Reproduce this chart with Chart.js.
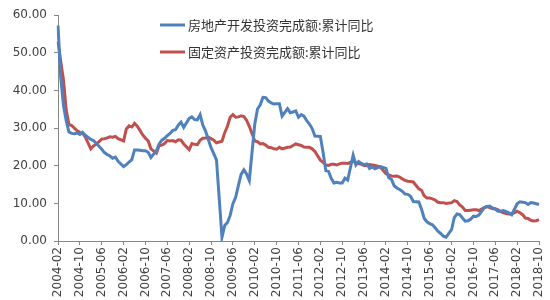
<!DOCTYPE html>
<html><head><meta charset="utf-8">
<script src="https://cdn.jsdelivr.net/npm/chart.js@4.4.1/dist/chart.umd.min.js"></script>
<style>html,body{margin:0;padding:0;background:#fff;}canvas{display:block;}</style>
</head><body>
<canvas id="c" width="550" height="300"></canvas>
<script>
const seriesNames = ['房地产开发投资完成额:累计同比', '固定资产投资完成额:累计同比'];
const startYear = 2004, startMonth = 2, endYear = 2018, endMonth = 10;
const labelEvery = 8;
const yTicks = { min: 0, max: 60, step: 10 };

// Values for Feb..Dec of each year (Jan-Feb reported together, January has no point)
const realEstate = [
  57.3, 43.5, 36.0, 32.0, 29.0, 28.6, 28.5, 28.7, 28.3, 28.9, 28.1,
  27.0, 26.7, 26.0, 25.2, 24.4, 23.5, 23.0, 22.6, 22.0, 22.3, 21.2,
  19.8, 20.3, 21.0, 21.6, 24.2, 24.2, 24.1, 24.0, 24.0, 23.6, 22.2,
  24.0, 25.8, 26.8, 27.3, 28.0, 28.6, 29.4, 29.6, 30.8, 31.6, 30.2,
  32.6, 33.0, 32.3, 32.2, 33.6, 30.8, 29.2, 27.0, 24.8, 23.2, 21.5,
  1.0, 4.1, 4.9, 6.8, 9.9, 11.6, 14.7, 17.7, 18.9, 17.8, 16.1,
  31.1, 35.1, 36.2, 38.2, 38.1, 37.2, 36.7, 36.4, 36.5, 36.5, 33.2,
  35.2, 34.1, 34.3, 34.6, 32.9, 33.6, 33.2, 32.0, 31.1, 29.9, 27.9,
  27.8, 23.5, 18.7, 18.5, 16.6, 15.4, 15.6, 15.4, 15.4, 16.7, 16.2,
  22.8, 20.2, 21.1, 20.6, 20.3, 20.5, 19.3, 19.7, 19.2, 19.5, 19.8,
  19.3, 16.8, 16.4, 14.7, 14.1, 13.7, 13.2, 12.5, 12.4, 11.9, 10.5,
  10.4, 8.5, 6.0, 5.1, 4.6, 4.3, 3.5, 2.6, 2.0, 1.3, 1.0,
  3.0, 6.2, 7.2, 7.0, 6.1, 5.3, 5.4, 5.8, 6.6, 6.5, 6.9,
  8.9, 9.1, 9.3, 8.8, 8.5, 7.9, 7.9, 8.1, 7.8, 7.5, 7.0,
  9.9, 10.4, 10.3, 10.2, 9.7, 10.2, 10.1, 9.9, 9.7
];
const fixedAsset = [
  53.0, 47.8, 42.8, 34.8, 31.0, 30.7, 30.0, 29.3, 28.9, 28.6, 27.6,
  24.5, 25.3, 25.7, 26.4, 27.1, 27.2, 27.4, 27.7, 27.6, 27.8, 27.2,
  26.6, 29.8, 30.6, 30.3, 31.3, 30.5, 29.4, 28.2, 27.3, 26.6, 24.5,
  23.4, 25.3, 25.5, 25.9, 26.7, 26.6, 26.7, 26.4, 26.9, 26.8, 25.8,
  24.3, 25.9, 25.7, 25.6, 26.8, 27.3, 27.4, 27.6, 27.2, 26.8, 26.1,
  26.5, 28.8, 30.5, 32.9, 33.6, 32.9, 33.0, 33.3, 33.1, 32.1, 30.5,
  26.6, 26.4, 25.8, 25.9, 25.5, 24.9, 24.8, 24.5, 24.4, 24.9, 24.5,
  24.9, 25.0, 25.4, 25.8, 25.6, 25.4, 25.0, 24.9, 24.9, 24.5, 23.8,
  21.5, 20.9, 20.2, 20.1, 20.4, 20.4, 20.2, 20.5, 20.7, 20.7, 20.6,
  21.2, 20.9, 20.6, 20.4, 20.1, 20.1, 20.3, 20.2, 20.1, 19.9, 19.6,
  17.9, 17.6, 17.3, 17.2, 17.3, 17.0, 16.5, 16.1, 15.9, 15.8, 15.7,
  13.9, 13.5, 12.0, 11.4, 11.4, 11.2, 10.9, 10.3, 10.2, 10.2, 10.0,
  10.2, 10.7, 10.5, 9.6, 9.0, 8.1, 8.1, 8.2, 8.3, 8.3, 8.1,
  8.9, 9.2, 8.9, 8.6, 8.6, 8.3, 7.8, 7.5, 7.3, 7.2, 7.2,
  7.9, 7.5, 7.0, 6.1, 6.0, 5.5, 5.3, 5.4, 5.7
];

// Build monthly category labels and series (January -> null gap, spanned)
const labels = [], reData = [], faData = [];
let k = 0;
for (let y = startYear; y <= endYear; y++) {
  const m0 = (y === startYear) ? startMonth : 1;
  const m1 = (y === endYear) ? endMonth : 12;
  for (let m = m0; m <= m1; m++) {
    labels.push(y + '-' + String(m).padStart(2, '0'));
    if (m === 1) { reData.push(null); faData.push(null); }
    else { reData.push(realEstate[k]); faData.push(fixedAsset[k]); k++; }
  }
}

const AXIS = '#868686';
const TXT = '#404040';
const tickFont = { family: 'DejaVu Sans', size: 12 };

const innerLegend = {
  id: 'innerLegend',
  afterDraw(chart) {
    const c = chart.ctx;
    const rows = [25, 52];
    c.save();
    chart.data.datasets.forEach((ds, i) => {
      const y = rows[i];
      c.strokeStyle = ds.borderColor;
      c.lineWidth = 3;
      c.beginPath(); c.moveTo(160, y); c.lineTo(185, y); c.stroke();
      c.fillStyle = '#333';
      c.font = '13px "Noto Sans CJK SC"';
      c.textBaseline = 'middle';
      c.textAlign = 'left';
      c.fillText(ds.label, 188, y);
    });
    c.restore();
  }
};

new Chart(document.getElementById('c'), {
  type: 'line',
  data: {
    labels,
    datasets: [
      { label: seriesNames[0], data: reData, borderColor: '#4F81BD', backgroundColor: '#4F81BD',
        borderWidth: 3, pointRadius: 0, spanGaps: true, tension: 0 },
      { label: seriesNames[1], data: faData, borderColor: '#C0504D', backgroundColor: '#C0504D',
        borderWidth: 3, pointRadius: 0, spanGaps: true, tension: 0 }
    ]
  },
  options: {
    responsive: false,
    animation: false,
    layout: { padding: { top: 15.3, right: 0, left: 0, bottom: 0 } },
    plugins: { legend: { display: false }, tooltip: { enabled: false } },
    scales: {
      x: {
        offset: false,
        grid: { drawOnChartArea: false, drawTicks: true, tickLength: 4,
                color: (ctx) => (ctx.index % labelEvery === 0 ? AXIS : 'rgba(0,0,0,0)') },
        border: { display: true, color: AXIS, width: 1 },
        ticks: { autoSkip: false, maxRotation: 90, minRotation: 90, padding: 2, color: TXT, font: tickFont,
                 callback: (v, i) => (i % labelEvery === 0 ? labels[i] : '') },
        afterFit: (s) => { s.height = 59; s.paddingRight = 11; s.paddingLeft = 0; }
      },
      y: {
        min: yTicks.min, max: yTicks.max,
        grid: { drawOnChartArea: false, drawTicks: true, tickLength: 4, color: AXIS },
        border: { display: true, color: AXIS, width: 1 },
        ticks: { stepSize: yTicks.step, padding: 7, color: TXT, font: tickFont,
                 callback: (v) => Number(v).toFixed(2) },
        afterFit: (s) => { s.width = 58; }
      }
    }
  },
  plugins: [innerLegend]
});
</script>
</body></html>
